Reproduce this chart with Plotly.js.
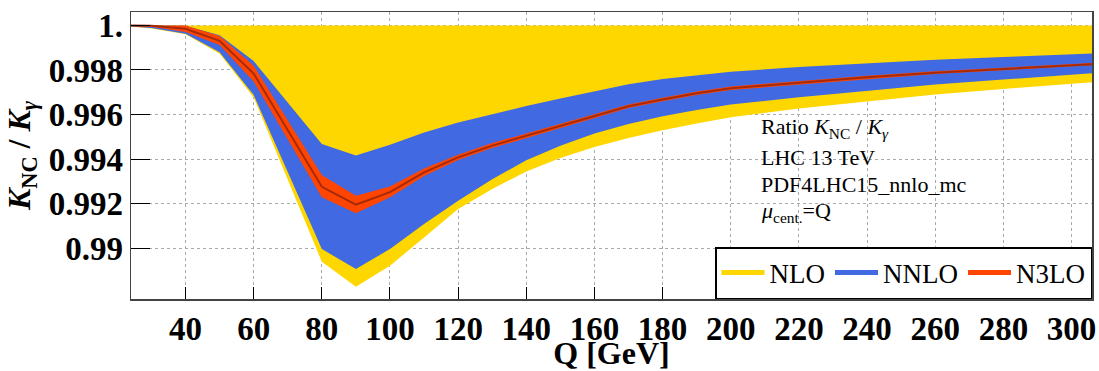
<!DOCTYPE html>
<html>
<head>
<meta charset="utf-8">
<script src="https://cdn.plot.ly/plotly-3.0.1.min.js"></script>
<style>html,body{margin:0;padding:0;background:#fff;}#chart{width:1099px;height:371px;}</style>
</head>
<body>
<div id="chart"></div>
<script>
// Q values [GeV]
const Q = [20, 30, 40, 50, 60, 80, 90, 100, 110, 120, 130, 140, 150, 160, 170, 180, 190, 200, 220, 240, 260, 280, 300, 310];

// NLO band
const nloUpper = [1.0, 1.0, 1.0, 1.0, 1.0, 1.0, 1.0, 1.0, 1.0, 1.0, 1.0, 1.0, 1.0, 1.0, 1.0, 1.0, 1.0, 1.0, 1.0, 1.0, 1.0, 1.0, 1.0, 1.0];
const nloLower = [1.0, 0.99986, 0.99960, 0.99873, 0.99677, 0.98940, 0.98828, 0.98922, 0.99049, 0.99177, 0.99266, 0.99345, 0.99405, 0.99455, 0.99495, 0.99530, 0.99560, 0.99588, 0.99627, 0.99660, 0.99690, 0.99715, 0.99738, 0.99750];

// NNLO band
const nnloUpper = [1.0, 1.0, 0.99998, 0.99956, 0.99840, 0.99468, 0.99416, 0.99465, 0.99520, 0.99565, 0.99603, 0.99638, 0.99672, 0.99705, 0.99736, 0.99760, 0.99777, 0.99792, 0.99813, 0.99830, 0.99846, 0.99858, 0.99870, 0.99877];
const nnloLower = [1.0, 0.99988, 0.99962, 0.99879, 0.99688, 0.98997, 0.98908, 0.98997, 0.99109, 0.99214, 0.99310, 0.99395, 0.99460, 0.99515, 0.99558, 0.99592, 0.99620, 0.99645, 0.99678, 0.99708, 0.99735, 0.99757, 0.99778, 0.99790];

// N3LO band and central value
const n3loUpper = [1.0, 1.0, 1.0, 0.99952, 0.99819, 0.99329, 0.99236, 0.99277, 0.99358, 0.99420, 0.99472, 0.99515, 0.99559, 0.99604, 0.99645, 0.99676, 0.99704, 0.99726, 0.99751, 0.99774, 0.99794, 0.99811, 0.99826, 0.99834];
const n3loLower = [1.0, 0.99994, 0.99970, 0.99912, 0.99748, 0.99229, 0.99157, 0.99229, 0.99325, 0.99396, 0.99450, 0.99495, 0.99541, 0.99586, 0.99629, 0.99660, 0.99688, 0.99710, 0.99735, 0.99760, 0.99782, 0.99799, 0.99816, 0.99824];
const n3loCentral = [1.0, 0.99998, 0.99985, 0.99931, 0.99784, 0.99276, 0.99196, 0.99252, 0.99341, 0.99408, 0.99461, 0.99505, 0.99550, 0.99595, 0.99637, 0.99668, 0.99696, 0.99718, 0.99743, 0.99767, 0.99788, 0.99805, 0.99821, 0.99829];

// Axis ticks
const xTickVals = [40, 60, 80, 100, 120, 140, 160, 180, 200, 220, 240, 260, 280, 300];
const yTickVals = [0.99, 0.992, 0.994, 0.996, 0.998, 1.0];
const yTickText = ["0.99", "0.992", "0.994", "0.996", "0.998", "1."];

const legendNames = ["NLO", "NNLO", "N3LO"];
const annotationLines = [
  "Ratio <i>K</i><sub>NC</sub> / <i>K</i><sub><i>γ</i></sub>",
  "LHC 13 TeV",
  "PDF4LHC15_nnlo_mc",
  "<i>μ</i><sub>cent.</sub>=Q"
];

const YELLOW = "#FFD700", BLUE = "#4169E1", RED = "#FF4500", DARKRED = "#A52A0A";
const SERIF = "Liberation Serif";

function edge(y) { return {x: Q, y: y, mode: "lines", line: {width: 0, color: "rgba(0,0,0,0)"}, showlegend: false, hoverinfo: "skip"}; }
function fillTo(y, color) { return {x: Q, y: y, mode: "lines", line: {width: 0, color: color}, fill: "tonexty", fillcolor: color, showlegend: false, hoverinfo: "skip"}; }
function legendEntry(name, color) { return {x: [null], y: [null], mode: "lines", name: name, line: {color: color, width: 5}, showlegend: true}; }

const data = [
  edge(nloLower), fillTo(nloUpper, YELLOW),
  edge(nnloLower), fillTo(nnloUpper, BLUE),
  edge(n3loLower), fillTo(n3loUpper, RED),
  {x: Q, y: n3loCentral, mode: "lines", line: {color: DARKRED, width: 2}, showlegend: false},
  legendEntry(legendNames[0], YELLOW),
  legendEntry(legendNames[1], BLUE),
  legendEntry(legendNames[2], RED)
];

const annY = [0.595, 0.492, 0.398, 0.303];
const annotations = annotationLines.map((t, i) => ({
  text: t, xref: "paper", yref: "paper", x: 0.654, y: annY[i],
  xanchor: "left", yanchor: "middle", showarrow: false,
  font: {family: SERIF, size: 22, color: "#000"}
}));

const layout = {
  width: 1099, height: 371,
  margin: {l: 131, r: 7, t: 12, b: 72},
  paper_bgcolor: "#fff", plot_bgcolor: "#fff",
  font: {family: SERIF},
  showlegend: true,
  xaxis: {
    range: [24, 306], tickvals: xTickVals,
    ticks: "inside", ticklen: 12, tickcolor: "#000", tickwidth: 1,
    showline: true, linecolor: "#444", linewidth: 1.5, mirror: true,
    showgrid: true, gridcolor: "#aaa", griddash: "dot", gridwidth: 1,
    zeroline: false,
    tickfont: {family: SERIF, size: 33, weight: "bold", color: "#000"},
    title: {text: "Q [GeV]", font: {family: SERIF, size: 32, weight: "bold", color: "#000"}, standoff: 22}
  },
  yaxis: {
    range: [0.98773, 1.0006], tickvals: yTickVals, ticktext: yTickText,
    ticks: "inside", ticklen: 19, tickcolor: "#000", tickwidth: 1,
    showline: true, linecolor: "#444", linewidth: 1.5, mirror: true,
    showgrid: true, gridcolor: "#aaa", griddash: "dot", gridwidth: 1,
    zeroline: false,
    tickfont: {family: SERIF, size: 33, weight: "bold", color: "#000"},
    title: {text: "<i>K</i><sub>NC</sub> / <i>K</i><sub><i>γ</i></sub>", font: {family: SERIF, size: 32, weight: "bold", color: "#000"}, standoff: 8}
  },
  legend: {
    orientation: "h", x: 1, xanchor: "right", y: 0, yanchor: "bottom",
    bgcolor: "#fff", bordercolor: "#000", borderwidth: 1.5,
    font: {family: SERIF, size: 27, color: "#000"},
    itemwidth: 43,
    traceorder: "normal"
  },
  annotations: annotations
};

Plotly.newPlot("chart", data, layout, {staticPlot: true, displayModeBar: false});
</script>
</body>
</html>
